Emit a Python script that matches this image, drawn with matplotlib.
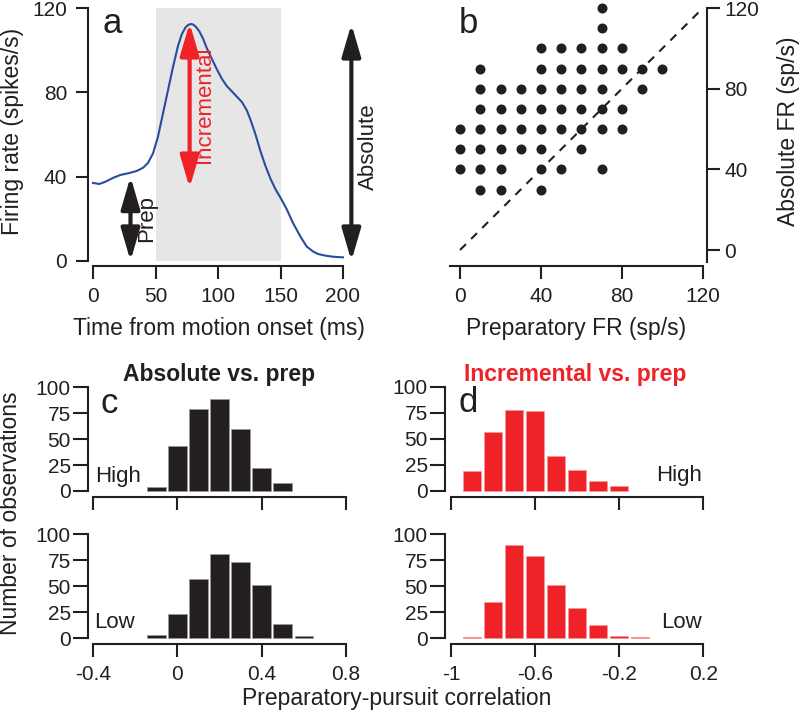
import matplotlib
matplotlib.use("Agg")
import matplotlib.pyplot as plt

plt.rcParams['font.family'] = ['Liberation Sans', 'DejaVu Sans']

# ---------------- data ----------------
time_ms = [0, 5, 10, 16, 22, 29, 35, 40, 44, 48, 52, 56, 60, 64, 68, 71, 74, 76,
           78, 80, 82, 85, 88, 91, 95, 99, 103, 107, 111, 115, 119, 123, 126,
           130, 134, 138, 142, 146, 150, 155, 160, 166, 171, 176, 180, 186, 192, 200]
firing_rate = [37, 36.5, 37.6, 39.4, 40.8, 41.7, 42.7, 44.2, 46.5, 51, 59, 70, 81, 92,
               102, 107.5, 110.8, 111.9, 112.4, 112.2, 111.3, 109, 105.5, 101, 96,
               91, 86.5, 83, 80.5, 78, 75.5, 71.5, 67, 60, 52, 45, 39, 34, 30,
               24.5, 18, 11.5, 6.8, 4.5, 3.3, 2.5, 2.0, 1.7]

prep_fr = ([70] + [70] + [40, 50, 60, 70, 80] + [10, 40, 50, 60, 70, 80, 90, 100]
           + [10, 20, 30, 40, 50, 60, 70, 90] + [10, 20, 30, 40, 50, 60, 70, 80]
           + [0, 10, 20, 30, 40, 50, 60, 70, 80] + [0, 10, 20, 30, 40, 60]
           + [0, 10, 20, 40, 50, 70] + [10, 20, 40])
abs_fr = ([120] + [110] + [100] * 5 + [90] * 8 + [80] * 8 + [70] * 8 + [60] * 9
          + [50] * 6 + [40] * 6 + [30] * 3)

abs_bins_high = [-0.1, 0.0, 0.1, 0.2, 0.3, 0.4, 0.5]
abs_counts_high = [4, 43, 79, 89, 60, 22, 8]
abs_bins_low = [-0.1, 0.0, 0.1, 0.2, 0.3, 0.4, 0.5, 0.6]
abs_counts_low = [3, 23, 57, 81, 73, 51, 14, 2]
inc_bins_high = [-0.9, -0.8, -0.7, -0.6, -0.5, -0.4, -0.3, -0.2]
inc_counts_high = [19, 57, 78, 77, 34, 20, 10, 5]
inc_bins_low = [-0.9, -0.8, -0.7, -0.6, -0.5, -0.4, -0.3, -0.2, -0.1]
inc_counts_low = [1, 35, 89, 79, 51, 29, 13, 2, 1]

a_xticks = [0, 50, 100, 150, 200]
a_yticks = [0, 40, 80, 120]
b_ticks = [0, 40, 80, 120]
c_xticks = [-0.4, 0, 0.4, 0.8]
c_xticklabels = ['-0.4', '0', '0.4', '0.8']
d_xticks = [-1, -0.6, -0.2, 0.2]
d_xticklabels = ['-1', '-0.6', '-0.2', '0.2']
hist_yticks = [0, 25, 50, 75, 100]

# ---------------- style ----------------
W, H = 800, 713
BLACK = '#231F20'
RED = '#EE2227'
BLUE = '#2B4BA0'
GRAY = '#E6E6E6'
TICK_FS = 15
LAB_FS = 16.5

fig = plt.figure(figsize=(W / 100, H / 100), dpi=100)


def add_ax(left, right, top, bottom):
    return fig.add_axes([left / W, 1 - bottom / H, (right - left) / W, (bottom - top) / H])


def fx(x):
    return x / W


def fy(y):
    return 1 - y / H


def style(ax, side='left'):
    for s in ['top', 'right', 'left', 'bottom']:
        ax.spines[s].set_visible(False)
    ax.spines['bottom'].set_visible(True)
    ax.spines[side].set_visible(True)
    for s in ['bottom', side]:
        ax.spines[s].set_linewidth(1.5)
        ax.spines[s].set_color(BLACK)
    ax.tick_params(width=1.5, length=9, color=BLACK, labelsize=TICK_FS, labelcolor=BLACK)
    ax.set_facecolor('none')


# ---------------- panel a ----------------
ax_a = add_ax(88, 360.5, 8, 266)
style(ax_a)
ax_a.set_xlim(-4, 214)
ax_a.set_ylim(-2.4, 120)
ax_a.spines['left'].set_bounds(0, 120)
ax_a.spines['bottom'].set_bounds(0, 200)
ax_a.set_xticks(a_xticks)
ax_a.set_yticks(a_yticks)
ax_a.tick_params(axis='both', pad=6)
ax_a.axvspan(50, 150, ymin=(0 + 2.4) / 122.4, ymax=1, color=GRAY, lw=0, zorder=0)
ax_a.plot(time_ms, firing_rate, color=BLUE, lw=1.5, zorder=2)


def darrow(ax, x, y0, y1, color):
    ax.annotate('', xy=(x, y1), xytext=(x, y0),
                arrowprops=dict(arrowstyle='<|-|>,head_length=1.3,head_width=0.38',
                                lw=3, color=color, shrinkA=0, shrinkB=0,
                                mutation_scale=15), annotation_clip=False, zorder=4)


darrow(ax_a, 30, 0, 40, BLACK)
darrow(ax_a, 77.3, 34.6, 112.9, RED)
darrow(ax_a, 206.7, 0, 112.4, BLACK)
ax_a.text(43, 20, 'Prep', rotation=90, ha='center', va='center', fontsize=16,
          color=BLACK, clip_on=False)
ax_a.text(89, 74, 'Incremental', rotation=90, ha='center', va='center', fontsize=16,
          color=RED, clip_on=False)
ax_a.text(220, 54, 'Absolute', rotation=90, ha='center', va='center', fontsize=16,
          color=BLACK, clip_on=False)

fig.text(fx(102), fy(33), 'a', fontsize=25, ha='left', va='baseline', color=BLACK)
fig.text(fx(219), fy(328), 'Time from motion onset (ms)', fontsize=LAB_FS,
         ha='center', va='center', color=BLACK)
fig.text(fx(13), fy(131), 'Firing rate (spikes/s)', fontsize=LAB_FS, rotation=90,
         ha='center', va='center', color=BLACK)

# ---------------- panel b ----------------
ax_b = add_ax(449.9, 707, 8, 266)
style(ax_b, side='right')
ax_b.set_xlim(-5, 122)
ax_b.set_ylim(-7.93, 120)
ax_b.spines['right'].set_bounds(-6, 120)
ax_b.spines['bottom'].set_bounds(-5, 120)
ax_b.yaxis.tick_right()
ax_b.set_xticks(b_ticks)
ax_b.set_yticks(b_ticks)
ax_b.tick_params(axis='x', pad=6)
ax_b.tick_params(axis='y', pad=3.5)
ax_b.plot([0, 120], [0, 120], color=BLACK, lw=1.5, ls=(0, (4, 3.5)), zorder=1)
ax_b.scatter(prep_fr, abs_fr, s=52, color=BLACK, lw=0, clip_on=False, zorder=3)

fig.text(fx(459), fy(33), 'b', fontsize=25, ha='left', va='baseline', color=BLACK)
fig.text(fx(576), fy(328), 'Preparatory FR (sp/s)', fontsize=LAB_FS,
         ha='center', va='center', color=BLACK)
fig.text(fx(788), fy(131), 'Absolute FR (sp/s)', fontsize=LAB_FS, rotation=90,
         ha='center', va='center', color=BLACK)


# ---------------- panels c, d ----------------
def hist_ax(left, right, top, bottom, xlim, xb, xticks, xlabels, bins, counts, color,
            show_labels):
    ax = add_ax(left, right, top, bottom)
    style(ax)
    ax.set_xlim(*xlim)
    ax.set_ylim(-5.5, 100)
    ax.spines['left'].set_bounds(0, 100)
    ax.spines['bottom'].set_bounds(*xb)
    ax.set_xticks(xticks)
    ax.set_yticks(hist_yticks)
    ax.tick_params(axis='y', length=11, pad=1.5)
    ax.tick_params(axis='x', pad=6)
    if show_labels:
        ax.set_xticklabels(xlabels)
    else:
        ax.set_xticklabels([])
    ax.bar(bins, counts, width=0.088, color=color,
           edgecolor='#9a9a9a' if color == BLACK else '#f49a9c',
           linewidth=0.5, zorder=2)
    return ax


c_lim = (-0.424, 0.8)
d_lim = (-1.0285, 0.2)
hist_ax(88, 346, 387.3, 496.7, c_lim, (-0.4, 0.8), c_xticks, c_xticklabels,
        abs_bins_high, abs_counts_high, BLACK, False)
hist_ax(88, 346, 534, 644, c_lim, (-0.4, 0.8), c_xticks, c_xticklabels,
        abs_bins_low, abs_counts_low, BLACK, True)
hist_ax(445, 703.3, 386.7, 496.7, d_lim, (-1, 0.2), d_xticks, d_xticklabels,
        inc_bins_high, inc_counts_high, RED, False)
hist_ax(445, 703.3, 534, 644, d_lim, (-1, 0.2), d_xticks, d_xticklabels,
        inc_bins_low, inc_counts_low, RED, True)

fig.text(fx(219), fy(381), 'Absolute vs. prep', fontsize=LAB_FS, fontweight='bold',
         ha='center', va='baseline', color=BLACK)
fig.text(fx(575), fy(381), 'Incremental vs. prep', fontsize=LAB_FS, fontweight='bold',
         ha='center', va='baseline', color=RED)
fig.text(fx(100), fy(413), 'c', fontsize=25, ha='left', va='baseline', color=BLACK)
fig.text(fx(458), fy(412), 'd', fontsize=25, ha='left', va='baseline', color=BLACK)
fig.text(fx(95), fy(482), 'High', fontsize=16, ha='left', va='baseline', color=BLACK)
fig.text(fx(94), fy(628), 'Low', fontsize=16, ha='left', va='baseline', color=BLACK)
fig.text(fx(702), fy(481), 'High', fontsize=16, ha='right', va='baseline', color=BLACK)
fig.text(fx(702), fy(628), 'Low', fontsize=16, ha='right', va='baseline', color=BLACK)
fig.text(fx(11), fy(513), 'Number of observations', fontsize=LAB_FS, rotation=90,
         ha='center', va='center', color=BLACK)
fig.text(fx(397), fy(698), 'Preparatory-pursuit correlation', fontsize=LAB_FS,
         ha='center', va='center', color=BLACK)

fig.savefig('out.png', dpi=100)
